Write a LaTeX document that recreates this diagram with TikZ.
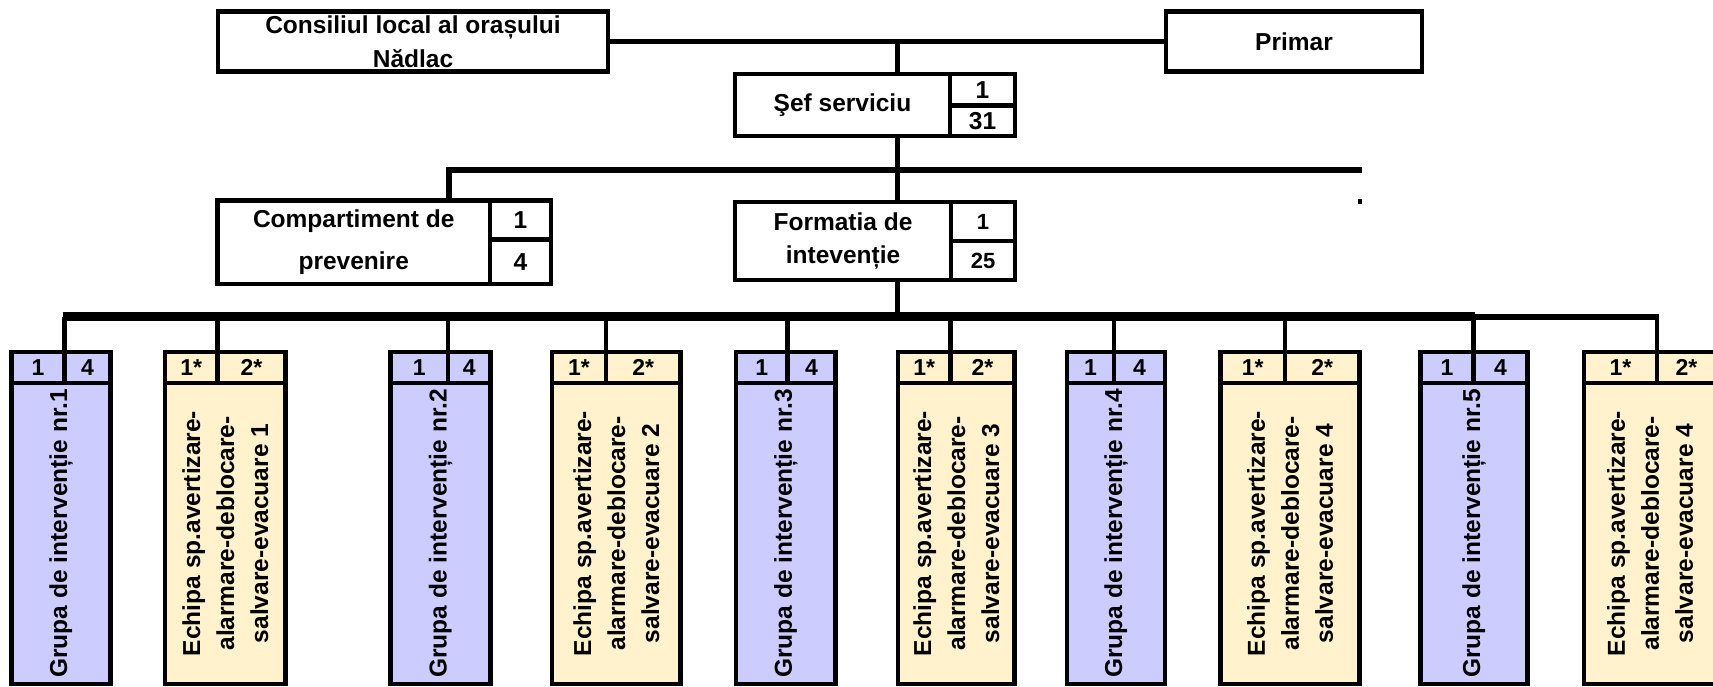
\documentclass[tikz,border=0pt]{standalone}
\usepackage{fontspec}
\setmainfont{Liberation Sans}
\definecolor{grp}{HTML}{CCCCFF}
\definecolor{ech}{HTML}{FFF2CC}
\tikzset{
  box/.style={draw, line width=4.5pt, inner sep=0pt, outer sep=0pt, anchor=north west,
    font=\bfseries\fontsize{24.5}{34}\selectfont, align=center},
  hdr/.style={font=\bfseries\fontsize{23}{25}\selectfont},
  small/.style={font=\bfseries\fontsize{22}{25}\selectfont},
  conn/.style={line width=4.3pt},
}
\newcommand\mybox[7]{%
  \pgfmathsetmacro\mycw{#4-#2}%
  \pgfmathsetmacro\mych{#5-#3}%
  \node[box,#6,minimum width=\mycw pt,minimum height=\mych pt] (#1) at (#2,#3) {#7};%
}
\newcommand\mycolumn[8]{%
  \pgfmathsetmacro\mycx{(#2+#4)/2}%
  \pgfmathsetmacro\mycw{#4-#2}%
  \node[box,fill=#5,rotate=90,anchor=center,minimum width=301pt,minimum height=\mycw pt] (#1c) at (\mycx,533.5) {#8};
  \mybox{#1a}{#2}{352}{#3}{383}{fill=#5,hdr}{#6}
  \mybox{#1b}{#3}{352}{#4}{383}{fill=#5,hdr}{#7}
  \coordinate (#1t) at (#3,316.5);
  \draw[conn] (#1t) -- (#1a.north east);
}
\begin{document}
\begin{tikzpicture}[x=1pt,y=-1pt]
\useasboundingbox (0,0) rectangle (1713,687);
\fill[white] (0,0) rectangle (1713,687);
% top level
\mybox{cons}{218}{11.5}{608}{71.5}{}{Consiliul local al orașului\\Nădlac}
\mybox{prim}{1166}{11.5}{1422}{71.5}{}{Primar}
\draw[line width=5pt] (cons.east) -- (prim.west);
\coordinate (t1) at (897.5,41.5);
% sef serviciu
\mybox{sefL}{735}{74}{950}{136}{}{Şef serviciu}
\mybox{sefA}{950}{74}{1015}{105.5}{}{1}
\mybox{sefB}{950}{105.5}{1015}{136}{}{31}
\draw[conn] (t1) -- (t1 |- sefL.north);
% second level line
\coordinate (l2L) at (449,170);
\coordinate (l2R) at (1362,170);
\mybox{compL}{217.5}{200.5}{490}{284}{font=\bfseries\fontsize{24.5}{42}\selectfont}{Compartiment de\\prevenire}
\mybox{compA}{490}{200.5}{551}{239.5}{}{1}
\mybox{compB}{490}{239.5}{551}{284}{}{4}
\mybox{formL}{735}{202}{951}{280}{font=\bfseries\fontsize{24.5}{33}\selectfont}{Formatia de\\intevenție}
\mybox{formA}{951}{202}{1015}{241}{small}{1}
\mybox{formB}{951}{241}{1015}{280}{small}{25}
\draw[line width=5.5pt] (l2L |- compL.north) -- (l2L) -- (l2R);
\draw[conn] (t1 |- sefL.south) -- (t1 |- formL.north);
\fill (1358,199) rectangle (1362,204);
% bus
\coordinate (busL) at (62.5,316.5);
\coordinate (busM) at (1475,316.5);
\coordinate (busR) at (1659,317);
\draw[conn] (t1 |- formL.south) -- (t1 |- busL);
% columns
\mycolumn{g1}{11.5}{64.5}{110.5}{grp}{1}{4}{Grupa de intervenție nr.1}
\mycolumn{e1}{165}{217.5}{285.5}{ech}{1*}{2*}{Echipa sp.avertizare-\\alarmare-deblocare-\\salvare-evacuare 1}
\mycolumn{g2}{390.5}{448}{490.5}{grp}{1}{4}{Grupa de intervenție nr.2}
\mycolumn{e2}{552}{606}{680.5}{ech}{1*}{2*}{Echipa sp.avertizare-\\alarmare-deblocare-\\salvare-evacuare 2}
\mycolumn{g3}{736}{787.5}{835.5}{grp}{1}{4}{Grupa de intervenție nr.3}
\mycolumn{e3}{898}{950.5}{1014.5}{ech}{1*}{2*}{Echipa sp.avertizare-\\alarmare-deblocare-\\salvare-evacuare 3}
\mycolumn{g4}{1067}{1114}{1165}{grp}{1}{4}{Grupa de intervenție nr.4}
\mycolumn{e4}{1220.5}{1285}{1359.5}{ech}{1*}{2*}{Echipa sp.avertizare-\\alarmare-deblocare-\\salvare-evacuare 4}
\mycolumn{g5}{1420.5}{1473.5}{1527.5}{grp}{1}{4}{Grupa de intervenție nr.5}
\mycolumn{e5}{1584}{1657}{1716}{ech}{1*}{2*}{Echipa sp.avertizare-\\alarmare-deblocare-\\salvare-evacuare 4}
\draw[line width=8.5pt] (busL) -- (busM);
\draw[line width=6pt] (busM |- busR) -- (busR);
\end{tikzpicture}
\end{document}
